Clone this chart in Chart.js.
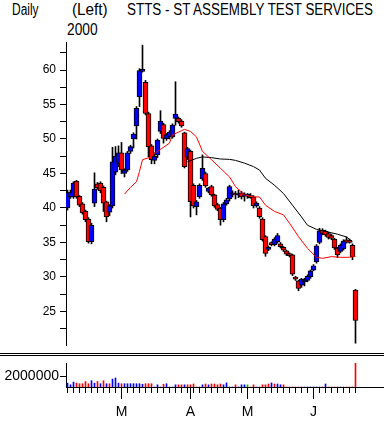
<!DOCTYPE html>
<html>
<head>
<meta charset="utf-8">
<script src="https://cdn.jsdelivr.net/npm/chart.js@4.4.1/dist/chart.umd.min.js"></script>
<style>
  html, body { margin: 0; padding: 0; background: #fff; }
  body { width: 384px; height: 423px; position: relative; overflow: hidden; }
  .txt {
    position: absolute; color: #000; white-space: nowrap;
    font-family: "Liberation Sans", Arial, sans-serif;
    font-size: 16px; line-height: 16px; transform-origin: 0 0;
  }
  .rule { position: absolute; left: 0; width: 384px; height: 1px; background: #000; }
  canvas { position: absolute; left: 0; }
</style>
</head>
<body>
<div class="txt" data-w="26.6" style="left:11.7px; top:1.5px">Daily</div>
<div class="txt" data-w="35.6" style="left:71.7px; top:1.5px">(Left)</div>
<div class="txt" data-w="30.6" style="left:66.7px; top:21.5px">2000</div>
<div class="txt" data-w="246" style="left:126.7px; top:1.5px">STTS - ST ASSEMBLY TEST SERVICES</div>

<canvas id="priceChart" width="384" height="352" style="top:0"></canvas>
<div class="rule" style="top:353px"></div>
<div class="rule" style="top:355px"></div>
<canvas id="volChart" width="384" height="67" style="top:356px"></canvas>

<script>
"use strict";

// ── Data (trading days Feb 3 – Jun 21, 2000, index 0..96) ──────────────────
const opens = [
  40.0, 41.6, 41.6, 43.9, 41.7, 40.6, 39.5, 38.4, 35.1, 40.7,
  43.5, 43.6, 43.0, 40.9, 39.4, 40.3, 45.2, 46.5, 48.0, 45.0,
  45.5, 48.2, 50.0, 51.9, 56.1, 59.8, 58.2, 53.7, 49.0, 46.9,
  47.7, 51.1, 52.1, 50.0, 50.3, 50.3, 53.0, 53.0, 52.6, 50.9,
  47.4, 48.2, 43.3, 40.2, 41.6, 44.2, 45.0, 42.4, 43.1, 41.9,
  40.5, 40.0, 38.3, 40.6, 41.3, 42.0, 42.1, 41.9, 42.2, 41.7,
  41.7, 41.8, 41.6, 40.3, 40.0, 38.4, 35.85, 34.0, 35.0, 34.7,
  35.1, 34.8, 34.3, 33.8, 33.4, 33.2, 30.0, 29.45, 28.8, 29.3,
  29.5, 30.0, 31.0, 32.2, 35.0, 36.8, 36.6, 36.3, 36.0, 35.5,
  34.2, 33.7, 34.05, 35.4, 35.3, 34.6, 28.1
];
const highs = [
  42.6, 42.6, 43.8, 44.0, 41.8, 40.8, 39.7, 38.6, 37.8, 45.1,
  43.7, 43.8, 43.2, 41.0, 40.5, 48.8, 48.9, 49.0, 49.5, 45.7,
  48.2, 49.1, 50.9, 54.7, 60.2, 63.6, 58.5, 53.9, 49.2, 48.0,
  50.0, 54.1, 52.3, 50.8, 51.2, 52.2, 58.3, 53.2, 52.8, 51.0,
  48.8, 48.4, 43.5, 41.1, 43.5, 47.7, 45.2, 43.0, 43.3, 42.0,
  40.7, 40.1, 40.8, 41.4, 43.3, 42.5, 42.4, 42.6, 42.4, 42.2,
  42.1, 42.1, 41.8, 40.9, 40.2, 38.6, 36.0, 34.5, 35.1, 35.7,
  36.3, 35.0, 34.4, 33.9, 33.5, 33.3, 30.1, 29.5, 29.8, 29.8,
  30.3, 31.0, 31.8, 34.7, 37.05, 37.0, 36.8, 36.5, 36.2, 35.6,
  34.3, 34.8, 35.4, 35.8, 35.5, 34.8, 28.2
];
const lows = [
  39.7, 41.4, 41.4, 41.4, 40.2, 39.1, 38.0, 34.9, 34.8, 40.2,
  42.7, 42.2, 39.5, 38.0, 38.9, 40.0, 44.8, 46.0, 45.0, 44.5,
  45.3, 47.9, 48.7, 50.0, 54.7, 59.7, 53.5, 47.4, 46.4, 46.4,
  47.3, 50.8, 49.4, 49.8, 50.0, 50.1, 52.0, 52.3, 51.7, 45.8,
  47.0, 38.7, 40.0, 39.0, 41.4, 44.0, 43.0, 42.2, 41.7, 40.1,
  39.6, 37.5, 38.0, 40.4, 41.0, 41.6, 41.3, 41.5, 41.3, 41.0,
  41.4, 41.4, 40.0, 40.1, 38.5, 35.2, 33.0, 33.8, 34.5, 34.5,
  34.9, 34.2, 33.7, 33.1, 32.9, 30.2, 29.5, 28.0, 28.5, 28.7,
  29.3, 29.8, 30.9, 32.0, 34.8, 36.1, 35.9, 35.5, 35.4, 34.0,
  32.8, 33.5, 33.9, 34.9, 34.9, 32.5, 20.4
];
const closes = [
  42.2, 42.3, 43.6, 41.6, 40.4, 39.3, 38.3, 35.1, 37.5, 42.75,
  42.9, 42.5, 40.7, 38.7, 40.3, 46.7, 47.5, 48.0, 45.5, 45.5,
  48.0, 48.9, 50.7, 54.45, 59.9, 60.1, 53.7, 48.9, 47.0, 47.5,
  49.85, 52.6, 50.1, 50.6, 51.0, 52.0, 53.6, 52.5, 51.9, 46.0,
  48.6, 40.9, 40.3, 40.9, 43.3, 45.75, 43.2, 42.9, 41.9, 40.3,
  39.8, 38.3, 40.6, 41.2, 43.1, 42.2, 41.9, 42.1, 41.6, 41.9,
  42.0, 41.5, 40.3, 40.7, 38.75, 35.4, 33.4, 34.3, 34.7, 35.5,
  36.0, 34.4, 33.9, 33.3, 33.1, 30.4, 29.7, 28.35, 29.7, 29.6,
  30.1, 30.9, 31.6, 34.5, 36.7, 36.3, 36.1, 35.75, 35.6, 34.2,
  33.2, 34.6, 35.2, 35.05, 35.0, 32.95, 23.7
];

// volume (shares) and its bar colour code: b = up, r = down, g = unchanged
const volumes = [
  700000, 400000, 900000, 700000, 600000, 600000, 1000000, 600000, 1150000, 700000,
  1000000, 600000, 1150000, 600000, 600000, 1450000, 1650000, 700000, 600000, 600000,
  600000, 600000, 600000, 600000, 600000, 500000, 600000, 600000, 600000, 0,
  400000, 0, 500000, 600000, 0, 0, 400000, 400000, 400000, 400000,
  400000, 400000, 550000, 0, 0, 400000, 550000, 400000, 550000, 550000,
  400000, 550000, 400000, 750000, 0, 0, 400000, 0, 400000, 400000,
  400000, 0, 400000, 0, 0, 400000, 400000, 550000, 750000, 550000,
  550000, 400000, 400000, 0, 0, 0, 0, 0, 0, 0,
  0, 0, 0, 0, 0, 0, 550000, 0, 0, 0,
  0, 0, 0, 0, 0, 0, 4400000
];
const volColors = [
  "b", "b", "b", "r", "r", "r", "r", "r", "b", "b",
  "r", "b", "r", "b", "r", "b", "b", "b", "r", "b",
  "b", "b", "b", "b", "b", "b", "r", "r", "r", "b",
  "b", "b", "r", "b", "b", "b", "b", "r", "r", "b",
  "r", "r", "r", "r", "b", "b", "r", "b", "r", "r",
  "r", "r", "b", "b", "b", "b", "r", "b", "b", "b",
  "g", "r", "r", "b", "r", "r", "r", "r", "b", "r",
  "b", "b", "r", "r", "r", "r", "r", "r", "b", "b",
  "b", "b", "b", "b", "b", "r", "b", "r", "r", "r",
  "r", "b", "b", "r", "r", "r", "r"
];

// moving averages (day index, price)
const maShortDays = [19, 21, 23, 24, 25, 28, 29, 31, 34, 35, 38, 39, 41, 43, 45, 48, 51,
                     54, 56, 59, 62, 64, 66, 69, 72, 74, 77, 80, 83, 85, 88, 91, 94, 96];
const maShortVals = [42.0, 43.0, 43.8, 45.3, 47.0, 47.4, 47.9, 48.5, 49.4, 50.6, 51.2, 51.4,
                     51.1, 50.3, 48.2, 47.0, 45.75, 44.5, 43.1, 41.9, 41.6, 41.6, 40.4, 39.5,
                     39.0, 37.8, 35.85, 34.15, 32.85, 32.7, 32.95, 32.85, 32.85, 33.0];
const maLongDays = [40, 43, 45, 48, 51, 54, 56, 59, 62, 64, 66, 69, 72, 75, 78, 80, 83, 87, 90, 93, 95];
const maLongVals = [46.7, 47.2, 47.4, 47.3, 47.1, 47.05, 46.9, 46.5, 46.0, 45.5, 44.3, 43.3,
                    42.1, 40.4, 38.7, 37.5, 36.9, 36.5, 36.2, 35.8, 35.1];

// axis ticks
const priceLabelStep = 5;
const monthStarts = [18, 41, 60, 82];
const monthLabels = ["M", "A", "M", "J"];
const volumeTicks = [2000000];

// ── Styling ─────────────────────────────────────────────────────────────────
const RED = "#ff0000";
const BLUE = "#0000ff";
const GREEN = "#00c000";
const VOL_COLORS = { b: BLUE, r: RED, g: GREEN };
const FONT = "\"Liberation Sans\", Arial, sans-serif";
const X_MIN = -0.5, X_MAX = 105.5;   // 3 px per trading day

const days = opens.map((_, i) => i);
const evenDays = days.filter(i => i % 2 === 0);

// fit header texts to their measured widths
document.querySelectorAll(".txt").forEach(el => {
  const target = parseFloat(el.dataset.w);
  const natural = el.getBoundingClientRect().width;
  el.style.transform = `scaleX(${target / natural})`;
});

// ── Price panel ─────────────────────────────────────────────────────────────
new Chart(document.getElementById("priceChart"), {
  type: "bar",
  data: {
    datasets: [
      {
        type: "line",
        data: maShortDays.map((d, k) => ({ x: d, y: maShortVals[k] })),
        borderColor: RED, borderWidth: 1, pointRadius: 0, tension: 0, order: 0,
      },
      {
        type: "line",
        data: maLongDays.map((d, k) => ({ x: d, y: maLongVals[k] })),
        borderColor: "#000", borderWidth: 1, pointRadius: 0, tension: 0, order: 1,
      },
      {
        // bodies, open → close
        data: days.map(i => ({ x: i, y: [opens[i], closes[i]] })),
        backgroundColor: days.map(i => closes[i] >= opens[i] ? BLUE : RED),
        borderColor: "#000", borderWidth: 1, borderSkipped: false,
        barThickness: 5, grouped: false, order: 2,
      },
      {
        // wicks, low → high
        data: days.map(i => ({ x: i, y: [lows[i], highs[i]] })),
        backgroundColor: "#000", borderWidth: 0,
        barThickness: 1, grouped: false, order: 3,
      },
    ],
  },
  options: {
    responsive: false,
    animation: false,
    events: [],
    layout: { padding: { top: 42, bottom: 7, left: 0, right: 0 } },
    plugins: { legend: { display: false }, tooltip: { enabled: false } },
    scales: {
      x: { type: "linear", min: X_MIN, max: X_MAX, offset: false, display: false },
      y: {
        min: 20.14, max: 64.06,
        ticks: {
          stepSize: 2.5, includeBounds: false, autoSkip: false,
          callback: v => (v % priceLabelStep === 0 ? String(v) : ""),
          color: "#000", font: { family: FONT, size: 12 }, padding: 4,
        },
        grid: { drawOnChartArea: false, tickLength: 6, color: "#000" },
        border: { color: "#000" },
        afterFit: ax => { ax.width = 66; ax.paddingTop = 0; ax.paddingBottom = 0; },
      },
    },
  },
});

// ── Volume panel ────────────────────────────────────────────────────────────
new Chart(document.getElementById("volChart"), {
  type: "bar",
  data: {
    datasets: [{
      data: days.map(i => ({ x: i, y: volumes[i] })),
      backgroundColor: days.map(i => VOL_COLORS[volColors[i]]),
      barThickness: 1, borderWidth: 0,
    }],
  },
  options: {
    responsive: false,
    animation: false,
    events: [],
    layout: { padding: { top: 7, bottom: 0, left: 0, right: 0 } },
    plugins: { legend: { display: false }, tooltip: { enabled: false } },
    scales: {
      x: {
        type: "linear", position: "bottom", min: X_MIN, max: X_MAX, offset: false, weight: 0,
        afterBuildTicks: ax => { ax.ticks = evenDays.map(v => ({ value: v })); },
        ticks: { autoSkip: false, maxRotation: 0, callback: () => "" },
        grid: { drawOnChartArea: false, tickLength: 6, color: "#000", offset: false },
        border: { color: "#000" },
        afterFit: ax => { ax.height = 0; },
      },
      xm: {
        type: "linear", position: "bottom", min: X_MIN, max: X_MAX, offset: false, weight: 1,
        afterBuildTicks: ax => { ax.ticks = monthStarts.map(v => ({ value: v })); },
        ticks: {
          autoSkip: false, maxRotation: 0, padding: 5,
          callback: v => monthLabels[monthStarts.indexOf(v)],
          color: "#000", font: { family: FONT, size: 14 },
        },
        grid: { drawOnChartArea: false, tickLength: 12, color: "#000", offset: false },
        border: { display: false },
        afterFit: ax => { ax.height = 36; },
      },
      y: {
        min: 0, max: 4400000,
        afterBuildTicks: ax => { ax.ticks = volumeTicks.map(v => ({ value: v })); },
        ticks: { callback: v => String(v), color: "#000", font: { family: FONT, size: 14 }, padding: 1 },
        grid: { drawOnChartArea: false, tickLength: 6, color: "#000" },
        border: { color: "#000" },
        afterFit: ax => { ax.width = 66; ax.paddingTop = 0; ax.paddingBottom = 0; },
      },
    },
  },
});
</script>
</body>
</html>
